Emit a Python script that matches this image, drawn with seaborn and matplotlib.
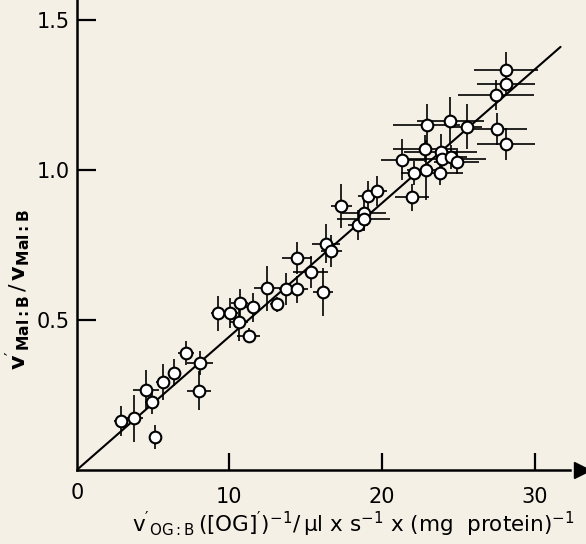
import numpy as np
import pandas as pd
import matplotlib
matplotlib.use("Agg")
import matplotlib.pyplot as plt
import seaborn as sns

# ---- data ----
x_vals = [2.92, 3.72, 5.13, 4.55, 4.94, 5.67, 6.37, 7.15, 8.06, 8.01,
          9.27, 10.07, 10.68, 10.61, 11.52, 11.26, 12.49, 13.10, 13.70, 14.40,
          14.44, 15.32, 16.13, 16.33, 16.69, 17.34, 18.41, 18.80, 18.80, 19.10,
          19.69, 21.33, 21.98, 22.09, 22.85, 22.91, 22.92, 23.85, 23.93, 23.80,
          24.55, 24.89, 24.47, 25.58, 27.45, 28.15, 28.15, 27.55, 28.15]
y_vals = [0.163, 0.172, 0.109, 0.267, 0.228, 0.294, 0.324, 0.391, 0.356, 0.264,
          0.522, 0.522, 0.556, 0.494, 0.542, 0.447, 0.606, 0.553, 0.603, 0.602,
          0.706, 0.661, 0.594, 0.754, 0.730, 0.880, 0.818, 0.856, 0.838, 0.912,
          0.931, 1.035, 0.909, 0.991, 1.071, 1.001, 1.149, 1.059, 1.036, 0.989,
          1.042, 1.028, 1.164, 1.144, 1.251, 1.333, 1.286, 1.136, 1.087]
x_err = [0.45, 0.65, 0.3, 0.85, 0.45, 0.45, 0.4, 0.5, 0.85, 0.8,
         0.5, 0.5, 0.55, 0.6, 0.5, 0.75, 0.85, 0.45, 0.45, 0.75,
         1.0, 1.15, 0.65, 0.9, 0.7, 0.7, 0.65, 1.45, 1.75, 0.7,
         0.65, 1.4, 1.1, 0.85, 2.1, 1.3, 2.2, 2.4, 2.9, 1.5,
         1.0, 1.5, 2.2, 1.0, 2.5, 2.1, 1.9, 1.95, 1.9]
y_err = [0.05, 0.077, 0.04, 0.065, 0.04, 0.06, 0.045, 0.04, 0.04, 0.065,
         0.058, 0.05, 0.047, 0.064, 0.047, 0.025, 0.075, 0.025, 0.053, 0.045,
         0.053, 0.053, 0.08, 0.065, 0.053, 0.072, 0.05, 0.055, 0.04, 0.05,
         0.05, 0.067, 0.045, 0.04, 0.045, 0.1, 0.072, 0.06, 0.04, 0.04,
         0.04, 0.04, 0.08, 0.075, 0.05, 0.06, 0.035, 0.053, 0.053]
fit_slope = 0.0445
fit_x = [0.0, 31.7]
x_ticks = [10, 20, 30]
y_ticks = [0.5, 1.0, 1.5]
y_tick_labels = ["0.5", "1.0", "1.5"]

df = pd.DataFrame({"x": x_vals, "y": y_vals})
fit_df = pd.DataFrame({"x": fit_x, "y": [fit_slope * v for v in fit_x]})

sns.set_theme(style="white")
plt.rcParams["font.family"] = ["DejaVu Sans"]
plt.rcParams["mathtext.default"] = "regular"
plt.rcParams["mathtext.fontset"] = "dejavusans"
plt.rcParams["text.color"] = "black"
plt.rcParams["axes.labelcolor"] = "black"
plt.rcParams["xtick.color"] = "black"
plt.rcParams["ytick.color"] = "black"

bg = "#f4f0e6"
fig = plt.figure(figsize=(5.86, 5.44), dpi=100, facecolor=bg)
ax = fig.add_axes([0.131, 0.136, 0.862, 0.864])
ax.set_facecolor(bg)

ax.errorbar(x_vals, y_vals, xerr=x_err, yerr=y_err, fmt="none",
            ecolor="black", elinewidth=1.2, capsize=0, zorder=2)
sns.lineplot(data=fit_df, x="x", y="y", color="black", linewidth=1.5, ax=ax, zorder=3)
sns.scatterplot(data=df, x="x", y="y", marker="o", s=70, facecolor="white",
                edgecolor="black", linewidth=1.5, ax=ax, zorder=4)

ax.set_xlim(0, 33.1)
ax.set_ylim(0, 1.567)

for s in ["top", "right"]:
    ax.spines[s].set_visible(False)
for s in ["left", "bottom"]:
    ax.spines[s].set_color("black")
    ax.spines[s].set_linewidth(1.8)
ax.spines["bottom"].set_bounds(0, 32.3)

# arrow at the right end of the x axis
ax.plot([1.0], [0.0], marker=">", color="black", markersize=11,
        transform=ax.transAxes, clip_on=False, zorder=5)

ax.set_xticks(x_ticks)
ax.set_xticklabels([str(t) for t in x_ticks])
ax.set_yticks(y_ticks)
ax.set_yticklabels(y_tick_labels)
ax.tick_params(axis="x", direction="in", length=12, width=1.6, pad=12,
               labelsize=15, colors="black", bottom=True)
ax.tick_params(axis="y", direction="in", length=14, width=1.6, pad=5,
               labelsize=15, colors="black", left=True)

ax.text(0, -0.028, "0", transform=ax.get_xaxis_transform(), ha="center",
        va="top", fontsize=15, color="black")

ax.set_xlabel(r"$v'_{OG:B}\,([OG]')^{-1}/\,$µl x s$^{-1}$ x (mg  protein)$^{-1}$",
              fontsize=15.5, color="black")
ax.xaxis.set_label_coords(0.548, -0.085)
ax.set_ylabel(r"$\mathbf{v}'_{\mathbf{Mal:B}}\,/\,\mathbf{v}_{\mathbf{Mal:B}}$",
              fontsize=16, color="black")
ax.yaxis.set_label_coords(-0.088, 0.385)

fig.savefig("out.png", dpi=100, facecolor=bg)
